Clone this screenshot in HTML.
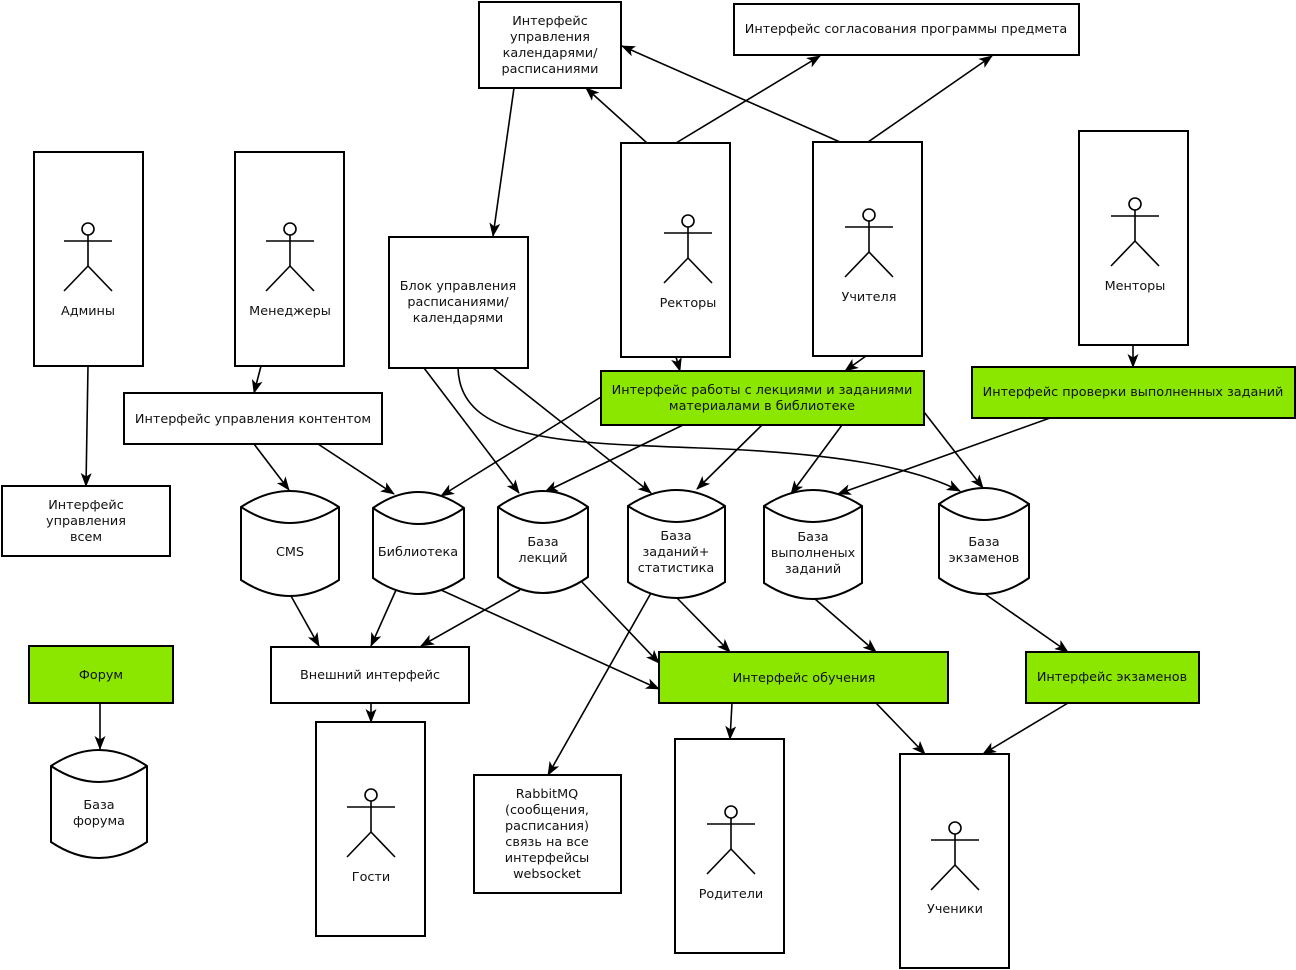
<!DOCTYPE html>
<html><head><meta charset="utf-8"><style>
html,body{margin:0;padding:0;background:#fff}
svg{display:block}
text{font-family:"DejaVu Sans","Liberation Sans",sans-serif;font-size:12.8px;fill:#111;text-anchor:middle}
.b{fill:#fff;stroke:#000;stroke-width:2}
.g{fill:#8be600;stroke:#000;stroke-width:2}
.e{fill:none;stroke:#000;stroke-width:1.6;marker-end:url(#a)}
.c{fill:#fff;stroke:#000;stroke-width:2}
.n{fill:none;stroke:#000;stroke-width:2}
</style></head><body>
<svg width="1296" height="970" viewBox="0 0 1296 970" xmlns="http://www.w3.org/2000/svg">
<defs>
<marker id="a" viewBox="0 0 14 11" refX="13" refY="5.5" markerWidth="14" markerHeight="11" markerUnits="userSpaceOnUse" orient="auto">
<path d="M0,0 L14,5.5 L0,11 L3.5,5.5 Z" fill="#000"/>
</marker>
<g id="actor" fill="none" stroke="#000" stroke-width="1.6">
<circle cx="0" cy="0" r="6" fill="#fff"/>
<line x1="0" y1="6" x2="0" y2="37"/>
<line x1="-24" y1="12" x2="24" y2="12"/>
<line x1="0" y1="37" x2="-24" y2="62"/>
<line x1="0" y1="37" x2="24" y2="62"/>
</g>
</defs>

<path class="e" d="M514,88 L493,236"/>
<path class="e" d="M647,143 L586,88"/>
<path class="e" d="M676,143 L820,56"/>
<path class="e" d="M840,142 L622,46"/>
<path class="e" d="M868,142 L992,56"/>
<path class="e" d="M88,366 L86,486"/>
<path class="e" d="M261,366 L254,393"/>
<path class="e" d="M676,357 L680,371"/>
<path class="e" d="M866,356 L845,371"/>
<path class="e" d="M1133,345 L1133,367"/>
<path class="e" d="M254,444 L289,490"/>
<path class="e" d="M318,444 L394,494"/>
<path class="e" d="M424,368 L519,493"/>
<path class="e" d="M493,368 L651,493"/>
<path class="e" d="M458,368 C460,440 560,443 700,448 C840,453 915,468 960,491"/>
<path class="e" d="M601,397 L441,496"/>
<path class="e" d="M683,425 L545,492"/>
<path class="e" d="M762,425 L697,489"/>
<path class="e" d="M842,425 L791,494"/>
<path class="e" d="M924,412 L983,488"/>
<path class="e" d="M1050,418 L838,494"/>
<path class="e" d="M291,596 L319,646"/>
<path class="e" d="M396,590 L371,646"/>
<path class="e" d="M520,590 L421,646"/>
<path class="e" d="M441,590 L659,689"/>
<path class="e" d="M580,580 L659,663"/>
<path class="e" d="M677,598 L730,652"/>
<path class="e" d="M651,593 L548,775"/>
<path class="e" d="M815,599 L876,652"/>
<path class="e" d="M985,594 L1068,652"/>
<path class="e" d="M100,703 L100,749"/>
<path class="e" d="M371,703 L371,722"/>
<path class="e" d="M732,703 L730,739"/>
<path class="e" d="M876,703 L925,754"/>
<path class="e" d="M1068,703 L983,754"/>

<rect class="b" x="479" y="2" width="142" height="86"/>
<text x="550" y="25">Интерфейс</text><text x="550" y="41">управления</text><text x="550" y="57">календарями/</text><text x="550" y="73">расписаниями</text>
<rect class="b" x="734" y="4" width="345" height="51"/>
<text x="906" y="33">Интерфейс согласования программы предмета</text>

<rect class="b" x="34" y="152" width="109" height="214"/>
<use href="#actor" x="88" y="229"/><text x="88" y="315">Админы</text>
<rect class="b" x="235" y="152" width="109" height="214"/>
<use href="#actor" x="290" y="229"/><text x="290" y="315">Менеджеры</text>
<rect class="b" x="389" y="237" width="139" height="131"/>
<text x="458" y="290">Блок управления</text><text x="458" y="306">расписаниями/</text><text x="458" y="322">календарями</text>
<rect class="b" x="621" y="143" width="109" height="214"/>
<use href="#actor" x="688" y="221"/><text x="688" y="307">Ректоры</text>
<rect class="b" x="813" y="142" width="109" height="214"/>
<use href="#actor" x="869" y="215"/><text x="869" y="301">Учителя</text>
<rect class="b" x="1079" y="131" width="109" height="214"/>
<use href="#actor" x="1135" y="204"/><text x="1135" y="290">Менторы</text>

<rect class="b" x="124" y="393" width="258" height="51"/>
<text x="253" y="423">Интерфейс управления контентом</text>
<rect class="g" x="601" y="371" width="323" height="54"/>
<text x="762" y="394">Интерфейс работы с лекциями и заданиями</text><text x="762" y="410">материалами в библиотеке</text>
<rect class="g" x="972" y="367" width="323" height="51"/>
<text x="1133" y="396">Интерфейс проверки выполненных заданий</text>
<rect class="b" x="2" y="486" width="168" height="70"/>
<text x="86" y="509">Интерфейс</text><text x="86" y="525">управления</text><text x="86" y="541">всем</text>

<g>
<path class="c" d="M241,507 Q290,475 339,507 L339,580 Q290,612 241,580 Z"/><path class="n" d="M241,507 Q290,539 339,507"/>
<text x="290" y="556">CMS</text>
<path class="c" d="M373,508 Q418.5,476 464,508 L464,578 Q418.5,610 373,578 Z"/><path class="n" d="M373,508 Q418.5,540 464,508"/>
<text x="418" y="556">Библиотека</text>
<path class="c" d="M498,507 Q543,475 588,507 L588,577 Q543,609 498,577 Z"/><path class="n" d="M498,507 Q543,539 588,507"/>
<text x="543" y="546">База</text><text x="543" y="562">лекций</text>
<path class="c" d="M628,506 Q676.5,474 725,506 L725,582 Q676.5,614 628,582 Z"/><path class="n" d="M628,506 Q676.5,538 725,506"/>
<text x="676" y="540">База</text><text x="676" y="556">заданий+</text><text x="676" y="572">статистика</text>
<path class="c" d="M764,506 Q813,474 862,506 L862,583 Q813,615 764,583 Z"/><path class="n" d="M764,506 Q813,538 862,506"/>
<text x="813" y="541">База</text><text x="813" y="557">выполненых</text><text x="813" y="573">заданий</text>
<path class="c" d="M939,504 Q984,472 1029,504 L1029,578 Q984,610 939,578 Z"/><path class="n" d="M939,504 Q984,536 1029,504"/>
<text x="984" y="546">База</text><text x="984" y="562">экзаменов</text>
<path class="c" d="M51,766 Q99,734 147,766 L147,842 Q99,874 51,842 Z"/><path class="n" d="M51,766 Q99,798 147,766"/>
<text x="99" y="809">База</text><text x="99" y="825">форума</text>
</g>

<rect class="g" x="29" y="646" width="144" height="57"/>
<text x="101" y="679">Форум</text>
<rect class="b" x="271" y="647" width="198" height="56"/>
<text x="370" y="679">Внешний интерфейс</text>
<rect class="g" x="659" y="652" width="289" height="51"/>
<text x="804" y="682">Интерфейс обучения</text>
<rect class="g" x="1026" y="652" width="173" height="51"/>
<text x="1112" y="681">Интерфейс экзаменов</text>

<rect class="b" x="316" y="722" width="109" height="214"/>
<use href="#actor" x="371" y="795"/><text x="371" y="881">Гости</text>
<rect class="b" x="474" y="775" width="147" height="118"/>
<text x="547" y="798">RabbitMQ</text><text x="547" y="814">(сообщения,</text><text x="547" y="830">расписания)</text><text x="547" y="846">связь на все</text><text x="547" y="862">интерфейсы</text><text x="547" y="878">websocket</text>
<rect class="b" x="675" y="739" width="109" height="214"/>
<use href="#actor" x="731" y="812"/><text x="731" y="898">Родители</text>
<rect class="b" x="900" y="754" width="109" height="214"/>
<use href="#actor" x="955" y="828"/><text x="955" y="913">Ученики</text>
</svg>
</body></html>
